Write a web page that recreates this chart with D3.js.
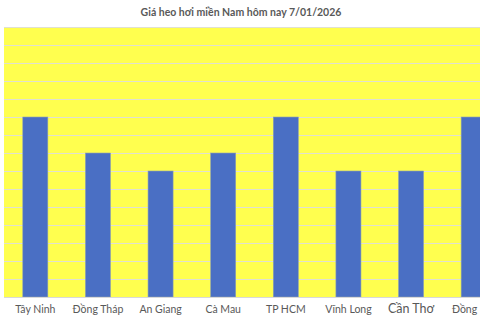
<!DOCTYPE html>
<html><head><meta charset="utf-8">
<script src="https://cdn.jsdelivr.net/npm/d3@7"></script>
<style>html,body{margin:0;padding:0;background:#fff;overflow:hidden}</style>
</head><body>
<svg id="c" width="480" height="320"></svg>
<script>
const categories = ["Tây Ninh","Đồng Tháp","An Giang","Cà Mau","TP HCM","Vĩnh Long","Cần Thơ","Đồng Nai"];
const values = [65, 63, 62, 63, 65, 62, 62, 65];
const yTicks = d3.range(55, 71, 1);
const title = "Giá heo hơi miền Nam hôm nay 7/01/2026";

const svg = d3.select("#c");
const mLeft = 4, mTop = 27, mBottom = 297, plotW = 501;
const x = d3.scaleBand().domain(categories).range([mLeft, mLeft + plotW]).paddingInner(0.6).paddingOuter(0.3);
const y = d3.scaleLinear().domain([55, 70]).range([mBottom, mTop]);

svg.append("rect").attr("x", mLeft).attr("y", mTop).attr("width", plotW).attr("height", mBottom - mTop).attr("fill", "#ffff4f");

svg.append("g").selectAll("line").data(yTicks).join("line")
  .attr("x1", mLeft).attr("x2", mLeft + plotW)
  .attr("y1", d => y(d) + 0.5).attr("y2", d => y(d) + 0.5)
  .attr("stroke", "#e0e0d0").attr("stroke-width", 1);

svg.append("g").selectAll("rect").data(values).join("rect")
  .attr("x", (d, i) => x(categories[i]))
  .attr("width", x.bandwidth())
  .attr("y", d => y(d))
  .attr("height", d => y(55) - y(d))
  .attr("fill", "#4a6fc4").attr("stroke", "#8fa0b0").attr("stroke-width", 0.6);

svg.append("line").attr("x1", mLeft).attr("x2", mLeft + plotW).attr("y1", mBottom + 0.5).attr("y2", mBottom + 0.5).attr("stroke", "#d9d9d9");

svg.append("g").selectAll("text").data(categories).join("text")
  .attr("x", d => x(d) + x.bandwidth() / 2)
  .attr("y", 313)
  .attr("text-anchor", "middle")
  .attr("font-family", "Lato, 'Open Sans', sans-serif")
  .attr("font-size", d => d === "Cần Thơ" ? 12.5 : 10.5)
  .attr("fill", "#595959")
  .text(d => d);

svg.append("text").attr("x", 241).attr("y", 16).attr("text-anchor", "middle")
  .attr("font-family", "Lato, 'Open Sans', sans-serif").attr("font-weight", "bold")
  .attr("font-size", 10.5).attr("fill", "#595959").text(title);
</script>
</body></html>
